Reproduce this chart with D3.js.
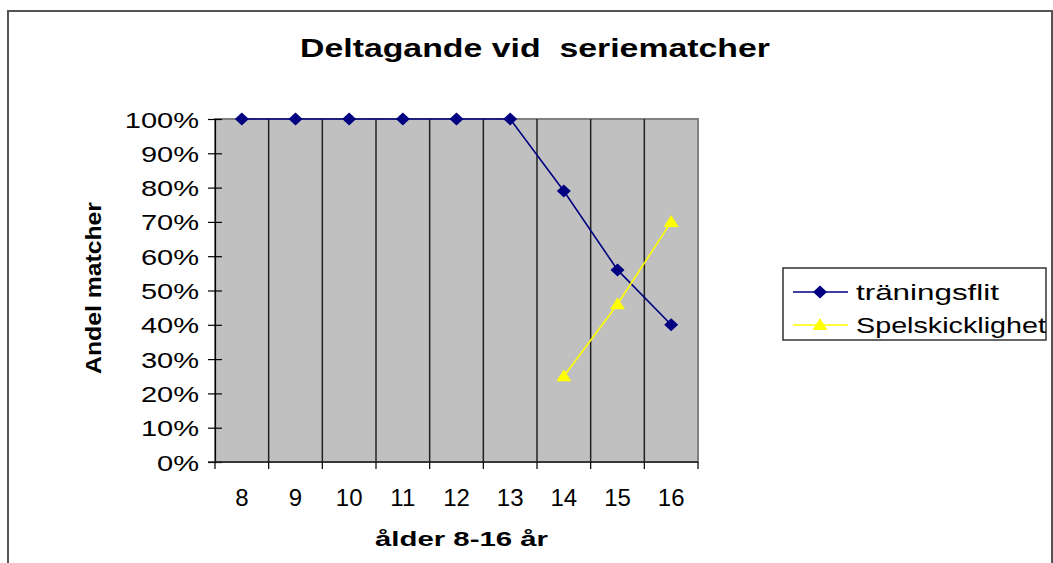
<!DOCTYPE html>
<html>
<head>
<meta charset="utf-8">
<script src="https://cdn.jsdelivr.net/npm/d3@7"></script>
<style>
  body { margin: 0; background: #fff; }
  text { font-family: Arial, "Liberation Sans", sans-serif; fill: #000; }
</style>
</head>
<body>
<script>
// data
const ages = ['8', '9', '10', '11', '12', '13', '14', '15', '16'];
const traningsflit = [1.00, 1.00, 1.00, 1.00, 1.00, 1.00, 0.79, 0.56, 0.40];
const spelskicklighet = [null, null, null, null, null, null, 0.25, 0.46, 0.70];
const yTicks = [0, 0.1, 0.2, 0.3, 0.4, 0.5, 0.6, 0.7, 0.8, 0.9, 1.0];
const seriesNames = ['träningsflit', 'Spelskicklighet'];

const W = 1053, H = 563;
const svg = d3.select('body').append('svg')
    .attr('width', W)
    .attr('height', H);

// outer chart border (bottom runs off the picture)
svg.append('rect')
    .attr('x', 8).attr('y', 11)
    .attr('width', 1044).attr('height', 600)
    .attr('fill', '#fff')
    .attr('stroke', '#555')
    .attr('stroke-width', 2);

const plot = { left: 215, right: 698, top: 119, bottom: 462 };

const x = d3.scaleBand().domain(ages).range([plot.left, plot.right]);
const y = d3.scaleLinear().domain([0, 1]).range([plot.bottom, plot.top]);

// plot area
svg.append('rect')
    .attr('x', plot.left).attr('y', plot.top)
    .attr('width', plot.right - plot.left)
    .attr('height', plot.bottom - plot.top)
    .attr('fill', '#c0c0c0')
    .attr('stroke', '#808080')
    .attr('stroke-width', 2);

// vertical grid lines between categories
svg.selectAll('.vgrid')
    .data(ages.slice(1))
    .enter()
    .append('line')
    .attr('class', 'vgrid')
    .attr('x1', d => x(d)).attr('x2', d => x(d))
    .attr('y1', plot.top).attr('y2', plot.bottom)
    .attr('stroke', '#222')
    .attr('stroke-width', 1.5);

// y axis
const yAxis = svg.append('g')
    .attr('transform', `translate(${plot.left},0)`)
    .call(d3.axisLeft(y).tickValues(yTicks).tickFormat(d3.format('.0%')).tickSize(7).tickPadding(0));
yAxis.select('.domain').attr('stroke', '#000').attr('stroke-width', 1.2);
yAxis.selectAll('.tick line').attr('x1', -7).attr('x2', 7).attr('stroke', '#000').attr('stroke-width', 1.2);
yAxis.selectAll('.tick text')
    .attr('x', null)
    .attr('font-size', 22)
    .attr('font-family', 'Arial, "Liberation Sans", sans-serif')
    .attr('transform', 'translate(-16,1) scale(1.32,1)');

// x axis line and ticks at category borders
svg.append('line')
    .attr('x1', plot.left - 7).attr('x2', plot.right)
    .attr('y1', plot.bottom).attr('y2', plot.bottom)
    .attr('stroke', '#222').attr('stroke-width', 1.5);
svg.selectAll('.xtick')
    .data(ages.concat(['end']))
    .enter()
    .append('line')
    .attr('x1', (d, i) => plot.left + i * x.bandwidth())
    .attr('x2', (d, i) => plot.left + i * x.bandwidth())
    .attr('y1', plot.bottom).attr('y2', plot.bottom + 7)
    .attr('stroke', '#000').attr('stroke-width', 1.2);
svg.selectAll('.xlabel')
    .data(ages)
    .enter()
    .append('text')
    .attr('x', d => x(d) + x.bandwidth() / 2)
    .attr('y', 506)
    .attr('text-anchor', 'middle')
    .attr('font-size', 24)
    .text(d => d);

// lines + markers
const line = d3.line()
    .defined(d => d != null)
    .x((d, i) => x(ages[i]) + x.bandwidth() / 2)
    .y(d => y(d));

svg.append('path')
    .datum(traningsflit)
    .attr('d', line)
    .attr('fill', 'none')
    .attr('stroke', '#000080')
    .attr('stroke-width', 1.6);

svg.append('path')
    .datum(spelskicklighet)
    .attr('d', line)
    .attr('fill', 'none')
    .attr('stroke', '#ffff00')
    .attr('stroke-width', 1.6);

const diamond = 'M0,-6.5L7,0L0,6.5L-7,0Z';
const triangle = 'M0,-7L7.5,5L-7.5,5Z';

svg.selectAll('.dia')
    .data(traningsflit)
    .enter()
    .append('path')
    .attr('d', diamond)
    .attr('transform', (d, i) => `translate(${x(ages[i]) + x.bandwidth() / 2},${y(d)})`)
    .attr('fill', '#000080');

svg.selectAll('.tri')
    .data(spelskicklighet.map((v, i) => ({ v, i })).filter(d => d.v != null))
    .enter()
    .append('path')
    .attr('d', triangle)
    .attr('transform', d => `translate(${x(ages[d.i]) + x.bandwidth() / 2},${y(d.v)})`)
    .attr('fill', '#ffff00');

// titles
svg.append('text')
    .attr('x', 300).attr('y', 57)
    .attr('font-size', 25).attr('font-weight', 'bold')
    .style('white-space', 'pre')
    .attr('textLength', 470).attr('lengthAdjust', 'spacingAndGlyphs')
    .text('Deltagande vid  seriematcher');

svg.append('text')
    .attr('x', 375).attr('y', 546)
    .attr('font-size', 21).attr('font-weight', 'bold')
    .attr('textLength', 173).attr('lengthAdjust', 'spacingAndGlyphs')
    .text('ålder 8-16 år');

svg.append('text')
    .attr('transform', 'translate(101,374) rotate(-90)')
    .attr('font-size', 22).attr('font-weight', 'bold')
    .attr('textLength', 172).attr('lengthAdjust', 'spacingAndGlyphs')
    .text('Andel matcher');

// legend
const legend = svg.append('g');
legend.append('rect')
    .attr('x', 783).attr('y', 268)
    .attr('width', 263).attr('height', 72)
    .attr('fill', '#fff')
    .attr('stroke', '#333')
    .attr('stroke-width', 1.5);

const legendRows = [
    { name: seriesNames[0], color: '#000080', shape: diamond, len: 143 },
    { name: seriesNames[1], color: '#ffff00', shape: triangle, len: 190 }
];
const rows = legend.selectAll('.row')
    .data(legendRows)
    .enter()
    .append('g')
    .attr('transform', (d, i) => `translate(0,${292 + i * 33})`);
rows.append('line')
    .attr('x1', 793).attr('x2', 848)
    .attr('y1', 0).attr('y2', 0)
    .attr('stroke', d => d.color)
    .attr('stroke-width', 1.6);
rows.append('path')
    .attr('d', d => d.shape)
    .attr('transform', 'translate(820,0)')
    .attr('fill', d => d.color);
rows.append('text')
    .attr('x', 856).attr('y', 8)
    .attr('font-size', 22)
    .attr('textLength', d => d.len).attr('lengthAdjust', 'spacingAndGlyphs')
    .text(d => d.name);
</script>
</body>
</html>
